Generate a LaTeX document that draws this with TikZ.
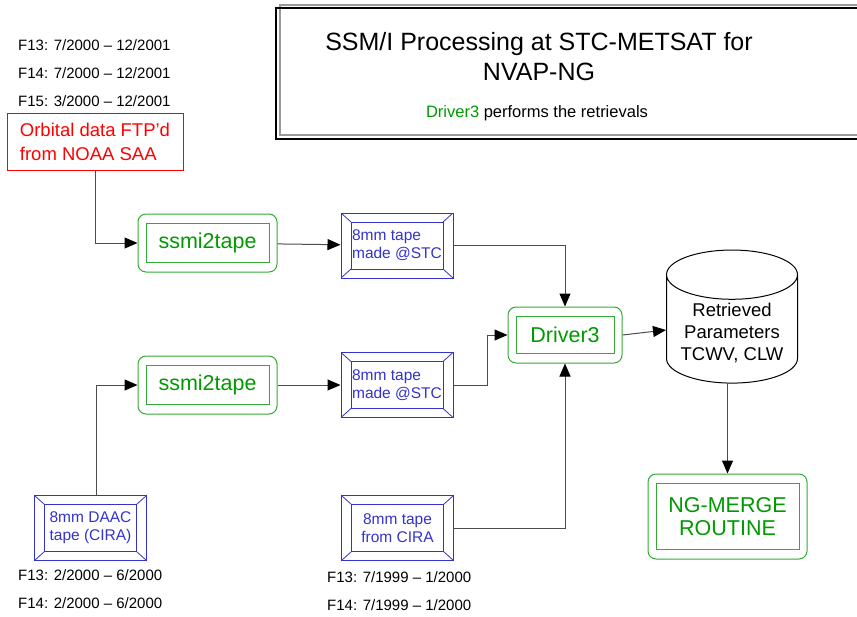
\documentclass[tikz,border=0pt]{standalone}
\usepackage{fontspec}
\setmainfont{Liberation Sans}
\usetikzlibrary{arrows.meta,shapes.geometric,positioning}

\definecolor{procgreen}{RGB}{0,153,0}
\definecolor{boxgreen}{RGB}{51,170,51}
\definecolor{tapeblue}{RGB}{51,51,204}

\tikzset{
  flow/.style={draw=black!70, line width=1pt, -{Triangle[length=13pt,width=11pt,color=black]}},
  datelabel/.style={anchor=west, inner sep=0pt, font=\fontsize{15}{18}\selectfont},
  % green program boxes: rounded frame with a square one inside
  procbox/.style={draw=boxgreen, line width=1pt, rounded corners=8pt, text=procgreen,
    align=center, font=\fontsize{21.5}{23}\selectfont,
    path picture={\draw[boxgreen, line width=1pt, sharp corners]
      ([shift={(8pt,-9.5pt)}]path picture bounding box.north west) rectangle
      ([shift={(-8pt,9.5pt)}]path picture bounding box.south east);}},
  % blue tapes: bevelled frame
  tapebox/.style={draw=tapeblue, line width=1pt, text=tapeblue, inner sep=0pt,
    minimum width=112pt, minimum height=65pt, font=\fontsize{15.5}{18}\selectfont,
    path picture={
      \draw[tapeblue, line width=1pt, sharp corners]
        ([shift={(10pt,-9pt)}]path picture bounding box.north west) rectangle
        ([shift={(-10pt,9pt)}]path picture bounding box.south east);
      \foreach \corner/\dx/\dy in {north west/10/-9, north east/-10/-9,
                                   south west/10/9, south east/-10/9}
        \draw[tapeblue, line width=0.8pt] (path picture bounding box.\corner) -- ++(\dx pt,\dy pt);
    }}
}

\begin{document}
\begin{tikzpicture}[x=1pt, y=-1pt]
  \useasboundingbox (0,0) rectangle (857,616);

  % heading frame
  \draw[black!40, line width=2pt] (280,4.5) rectangle (880,134.5);
  \draw[line width=2pt] (276,7.5) rectangle (876,138.5);
  \node[font=\fontsize{25}{30}\selectfont, align=center] (title) at (539,57)
    {SSM/I Processing at STC-METSAT for\\NVAP-NG};
  \node[font=\fontsize{16.5}{20}\selectfont] (subtitle) at (537,113)
    {\textcolor{procgreen}{Driver3} performs the retrievals};

  % orbital input
  \node[datelabel] (f13a) at (18,45) {F13: 7/2000 -- 12/2001};
  \node[datelabel] (f14a) at (18,73) {F14: 7/2000 -- 12/2001};
  \node[datelabel] (f15a) at (18,101) {F15: 3/2000 -- 12/2001};
  \node[draw=red, line width=1pt, text=red, align=left, minimum width=176pt,
    minimum height=57pt, font=\fontsize{18.5}{24}\selectfont] (orbit) at (95,141.5)
    {Orbital data FTP'd\\from NOAA SAA};

  \node[procbox, minimum width=139pt, minimum height=58pt] (conv1) at (207.5,243) {ssmi2tape};
  \node[tapebox, align=left] (tape1) at (397,245.5) {8mm tape\\made @STC};

  % DAAC input
  \node[tapebox, align=left] (daac) at (90.5,528) {8mm DAAC\\tape (CIRA)};
  \node[datelabel] (f13b) at (18,575) {F13: 2/2000 -- 6/2000};
  \node[datelabel] (f14b) at (18,603) {F14: 2/2000 -- 6/2000};

  \node[procbox, minimum width=139pt, minimum height=58pt] (conv2) at (207.5,385) {ssmi2tape};
  \node[tapebox, align=left] (tape2) at (397,385) {8mm tape\\made @STC};

  % CIRA tape
  \node[tapebox, align=center] (cira) at (397.5,528) {8mm tape\\from CIRA};
  \node[datelabel] (f13c) at (327,577) {F13: 7/1999 -- 1/2000};
  \node[datelabel] (f14c) at (327,605) {F14: 7/1999 -- 1/2000};

  % retrieval and output
  \node[procbox, minimum width=114pt, minimum height=56pt] (driver) at (565,335) {Driver3};
  \node[cylinder, shape border rotate=90, draw, line width=1pt, aspect=0.45,
    minimum width=131pt, minimum height=113pt, align=center,
    font=\fontsize{18.5}{22}\selectfont] (params) at (732,333)
    {Retrieved\\Parameters\\TCWV, CLW};
  \node[procbox, minimum width=159pt, minimum height=85pt] (merge) at (727.5,516.5)
    {NG-MERGE\\ROUTINE};

  \draw[flow] (orbit.south) |- (conv1.west);
  \draw[flow] (conv1) -- (tape1);
  \draw[flow] (tape1.east) -| (driver.north);
  \draw[flow] ([xshift=5.5pt]daac.north) |- (conv2.west);
  \draw[flow] (conv2) -- (tape2);
  \draw[flow] (tape2.east) -- ++(34,0) |- (driver.west);
  \draw[flow] (cira.east) -| (driver.south);
  \draw[flow] (driver.east) -- ([yshift=5pt]params.west |- driver.east);
  \draw[flow] (params.south -| merge.north) -- (merge.north);
\end{tikzpicture}
\end{document}
